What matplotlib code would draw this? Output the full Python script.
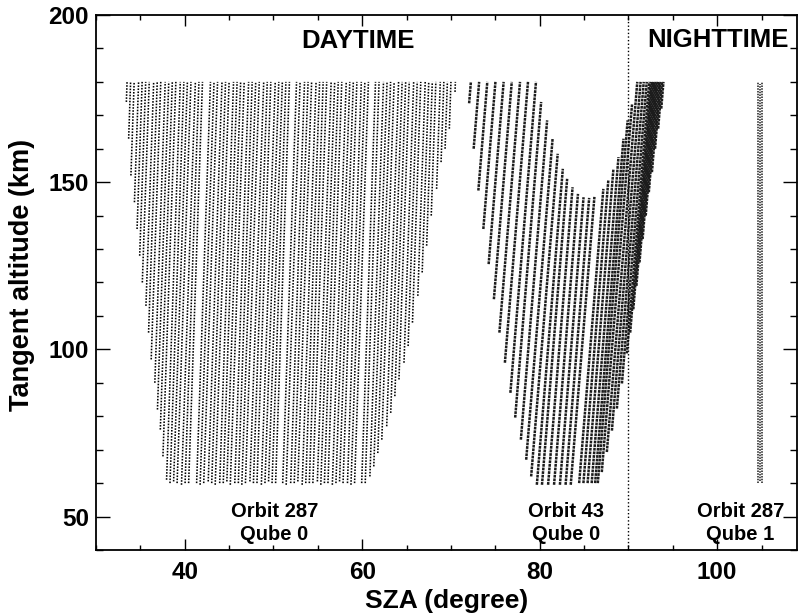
import numpy as np
import matplotlib
matplotlib.use("Agg")
import matplotlib.pyplot as plt
from matplotlib.ticker import MultipleLocator

plt.rcParams['font.family'] = ['Liberation Sans', 'DejaVu Sans']
plt.rcParams['font.weight'] = 'bold'

# Orbit 287 / Qube 0 : one dotted column per limb scan (SZA at 180 km, lowest altitude)
g1_sza_top = [33.5, 33.9, 34.3, 34.8, 35.2, 35.6, 36.0, 36.5, 36.9, 37.3, 37.8,
              38.2, 38.6, 39.0, 39.5, 39.9, 40.3, 40.7, 41.2, 41.6, 42.0,
              42.9, 43.3, 43.7, 44.2, 44.6, 45.0, 45.5, 45.9, 46.3, 46.7, 47.2,
              47.6, 48.0, 48.4, 48.9, 49.3, 49.7, 50.2, 50.6, 51.0, 51.4, 51.8,
              52.6, 53.0, 53.5, 53.9, 54.3, 54.8, 55.2, 55.6, 56.0, 56.5, 56.9,
              57.3, 57.7, 58.2, 58.6, 59.0, 59.4, 59.9, 60.3, 60.7,
              61.5, 61.9, 62.4, 62.8, 63.2, 63.6, 64.1, 64.5, 64.9, 65.3, 65.8,
              66.2, 66.6, 67.1, 67.5, 67.9, 68.3, 68.8, 69.2, 69.6, 70.0, 70.5]
g1_alt_bot = [174, 163, 152, 144, 136, 128, 120, 113, 105, 97, 90,
              82, 76, 68, 61, 60, 60.5, 60, 59.5, 60, 60,
              60, 59.5, 60, 60.5, 60, 59.5, 60, 60, 60.5, 59.5, 60,
              60, 59.5, 60, 60.5, 60, 60, 59.5, 60, 60.5, 60, 60,
              60, 59.5, 60, 60, 60.5, 59.5, 60, 60, 60, 60.5, 59.5,
              60, 60, 59.5, 60, 60.5, 60, 60, 59.5, 60,
              60, 60, 62, 65, 69, 73, 77, 81, 86, 91, 96,
              101, 108, 116, 123, 131, 140, 148, 156, 160, 166, 177]
g1_alt_top = 180.0
g1_lean = 0.013        # deg of SZA per km along a scan

# Orbit 43 / Qube 0 : slanted scans (SZA at lower end, lower and upper altitude)
g2_sza_bot = [72.05, 72.56, 73.09, 73.65, 74.25, 74.84, 75.46, 76.08, 76.70,
              77.24, 77.88, 78.48, 79.04, 79.68, 80.26, 80.95, 81.62, 82.28,
              82.92, 83.50,
              84.45, 84.93, 85.40, 85.86, 86.25, 86.55, 87.00, 87.57, 88.14,
              88.70, 89.27, 89.83,
              90.20, 90.55, 90.90, 91.25, 91.60, 91.95, 92.30, 92.65, 93.00,
              93.35, 93.70]
g2_alt_bot = [173.6, 160, 147.5, 136, 125.5, 115, 105, 96, 87,
              79.6, 73, 67, 62, 59.5, 59.5, 59.5, 59.5, 59.5,
              59.5, 59.5,
              60, 60, 60, 60, 60, 60, 63.3, 69.3, 75.7,
              82.3, 89.8, 98.8,
              105, 112, 119, 126, 133, 140, 147, 153, 160,
              166, 172]
g2_alt_top = [180, 180, 180, 180, 180, 180, 180, 180, 180,
              174, 168.5, 163, 158.5, 154, 151, 148.5, 146.5, 145.5,
              145.3, 145.6,
              148, 150.5, 154, 157.5, 163, 168.5, 173.5, 180, 180,
              180, 180, 180,
              180, 180, 180, 180, 180, 180, 180, 180, 180,
              180, 180]
g2_lean = 0.031

# Orbit 287 / Qube 1 : narrow band on the night side
g3_sza = [104.6, 104.85, 105.1]
g3_alt_bot = [60, 60.5, 60]
g3_alt_top = [180, 179.5, 180]

terminator = 90.0

fig = plt.figure(figsize=(7.98, 6.14), dpi=100)
ax = fig.add_axes([96 / 798, 64 / 614, 701 / 798, 535 / 614])

for s, lo in zip(g1_sza_top, g1_alt_bot):
    ax.plot([s - g1_lean * (g1_alt_top - lo), s], [lo, g1_alt_top],
            color='k', lw=1.15, dashes=(1.0, 0.9))

for s, lo, hi in zip(g2_sza_bot, g2_alt_bot, g2_alt_top):
    ax.plot([s, s + g2_lean * (hi - lo)], [lo, hi],
            color='#1c1c1c', lw=1.8, dashes=(1.1, 0.35))

for s, lo, hi in zip(g3_sza, g3_alt_bot, g3_alt_top):
    ax.plot([s, s], [lo, hi], color='#1c1c1c', lw=1.1, dashes=(1.0, 0.8))

ax.axvline(terminator, color='k', lw=1.0, dashes=(1.0, 1.6), zorder=5)

ax.set_xlim(30, 109)
ax.set_ylim(40, 200)
ax.xaxis.set_major_locator(MultipleLocator(20))
ax.xaxis.set_minor_locator(MultipleLocator(5))
ax.yaxis.set_major_locator(MultipleLocator(50))
ax.yaxis.set_minor_locator(MultipleLocator(10))
ax.set_yticks([50, 100, 150, 200])

ax.tick_params(which='both', direction='in', top=True, right=True,
               labelsize=17.5, width=1.0)
ax.tick_params(axis='x', which='major', length=7.7, pad=8)
ax.tick_params(axis='x', which='minor', length=3.9)
ax.tick_params(axis='y', which='major', length=10.1, pad=5)
ax.tick_params(axis='y', which='minor', length=5.0)
for sp in ax.spines.values():
    sp.set_linewidth(1.3)

ax.set_xlabel('SZA (degree)', fontsize=19, fontweight='bold')
ax.set_ylabel('Tangent altitude (km)', fontsize=19.5, fontweight='bold')
ax.xaxis.set_label_coords(0.5, -0.073)
ax.yaxis.set_label_coords(-0.087, 0.515)

ax.text(59.5, 190.2, 'DAYTIME', fontsize=18.5, ha='center', va='baseline')
ax.text(100.1, 190.5, 'NIGHTTIME', fontsize=18.5, ha='center', va='baseline')

for x, label in [(50.1, 'Orbit 287\nQube 0'),
                 (83.0, 'Orbit 43\nQube 0'),
                 (102.6, 'Orbit 287\nQube 1')]:
    ax.text(x, 43.1, label, fontsize=14.5, ha='center', va='baseline',
            multialignment='center', linespacing=1.25)

fig.savefig('out.png', dpi=100)
